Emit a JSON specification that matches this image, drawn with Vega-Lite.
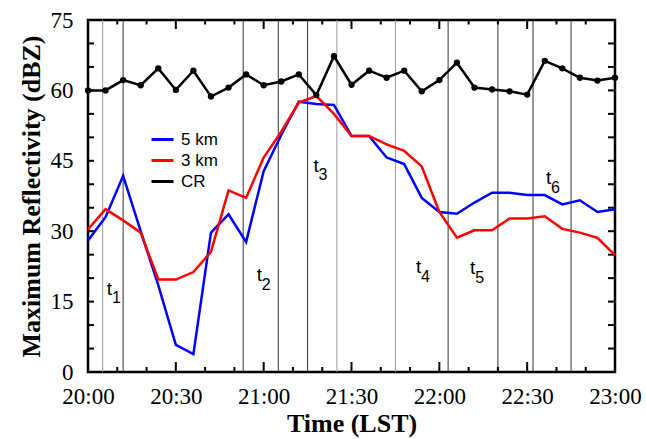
{
  "$schema": "https://vega.github.io/schema/vega-lite/v6.json",
  "width": 527,
  "height": 352,
  "autosize": "none",
  "padding": {"left": 88, "top": 20, "right": 31, "bottom": 67},
  "background": "white",
  "config": {
    "view": {"stroke": "black", "strokeWidth": 2.5},
    "axis": {"domain": false, "ticks": false, "grid": false, "labelColor": "black", "titleColor": "black", "labelOverlap": false, "labelFlush": false}
  },
  "datasets": {
    "series": [
      {"minute": 0, "series": "5 km", "value": 28.0},
      {"minute": 6, "series": "5 km", "value": 33.0},
      {"minute": 12, "series": "5 km", "value": 41.8},
      {"minute": 18, "series": "5 km", "value": 30.0},
      {"minute": 24, "series": "5 km", "value": 18.5},
      {"minute": 30, "series": "5 km", "value": 5.8},
      {"minute": 36, "series": "5 km", "value": 3.8},
      {"minute": 42, "series": "5 km", "value": 29.7},
      {"minute": 48, "series": "5 km", "value": 33.6},
      {"minute": 54, "series": "5 km", "value": 27.7},
      {"minute": 60, "series": "5 km", "value": 42.8},
      {"minute": 66, "series": "5 km", "value": 50.5},
      {"minute": 72, "series": "5 km", "value": 57.6},
      {"minute": 78, "series": "5 km", "value": 57.1},
      {"minute": 84, "series": "5 km", "value": 56.9},
      {"minute": 90, "series": "5 km", "value": 50.3},
      {"minute": 96, "series": "5 km", "value": 50.3},
      {"minute": 102, "series": "5 km", "value": 45.7},
      {"minute": 108, "series": "5 km", "value": 44.3},
      {"minute": 114, "series": "5 km", "value": 37.1},
      {"minute": 120, "series": "5 km", "value": 34.1},
      {"minute": 126, "series": "5 km", "value": 33.7},
      {"minute": 132, "series": "5 km", "value": 36.1},
      {"minute": 138, "series": "5 km", "value": 38.2},
      {"minute": 144, "series": "5 km", "value": 38.2},
      {"minute": 150, "series": "5 km", "value": 37.7},
      {"minute": 156, "series": "5 km", "value": 37.7},
      {"minute": 162, "series": "5 km", "value": 35.7},
      {"minute": 168, "series": "5 km", "value": 36.6},
      {"minute": 174, "series": "5 km", "value": 34.1},
      {"minute": 180, "series": "5 km", "value": 34.7},
      {"minute": 0, "series": "3 km", "value": 30.4},
      {"minute": 6, "series": "3 km", "value": 34.7},
      {"minute": 12, "series": "3 km", "value": 32.3},
      {"minute": 18, "series": "3 km", "value": 29.7},
      {"minute": 24, "series": "3 km", "value": 19.7},
      {"minute": 30, "series": "3 km", "value": 19.7},
      {"minute": 36, "series": "3 km", "value": 21.3},
      {"minute": 42, "series": "3 km", "value": 25.6},
      {"minute": 48, "series": "3 km", "value": 38.7},
      {"minute": 54, "series": "3 km", "value": 37.1},
      {"minute": 60, "series": "3 km", "value": 45.7},
      {"minute": 66, "series": "3 km", "value": 51.2},
      {"minute": 72, "series": "3 km", "value": 57.4},
      {"minute": 78, "series": "3 km", "value": 58.8},
      {"minute": 84, "series": "3 km", "value": 55.0},
      {"minute": 90, "series": "3 km", "value": 50.3},
      {"minute": 96, "series": "3 km", "value": 50.3},
      {"minute": 102, "series": "3 km", "value": 48.5},
      {"minute": 108, "series": "3 km", "value": 47.1},
      {"minute": 114, "series": "3 km", "value": 43.8},
      {"minute": 120, "series": "3 km", "value": 34.1},
      {"minute": 126, "series": "3 km", "value": 28.6},
      {"minute": 132, "series": "3 km", "value": 30.2},
      {"minute": 138, "series": "3 km", "value": 30.2},
      {"minute": 144, "series": "3 km", "value": 32.7},
      {"minute": 150, "series": "3 km", "value": 32.7},
      {"minute": 156, "series": "3 km", "value": 33.2},
      {"minute": 162, "series": "3 km", "value": 30.5},
      {"minute": 168, "series": "3 km", "value": 29.7},
      {"minute": 174, "series": "3 km", "value": 28.6},
      {"minute": 180, "series": "3 km", "value": 24.9},
      {"minute": 0, "series": "CR", "value": 60.0},
      {"minute": 6, "series": "CR", "value": 60.0},
      {"minute": 12, "series": "CR", "value": 62.2},
      {"minute": 18, "series": "CR", "value": 61.1},
      {"minute": 24, "series": "CR", "value": 64.7},
      {"minute": 30, "series": "CR", "value": 60.1},
      {"minute": 36, "series": "CR", "value": 64.2},
      {"minute": 42, "series": "CR", "value": 58.7},
      {"minute": 48, "series": "CR", "value": 60.6},
      {"minute": 54, "series": "CR", "value": 63.4},
      {"minute": 60, "series": "CR", "value": 61.1},
      {"minute": 66, "series": "CR", "value": 61.9},
      {"minute": 72, "series": "CR", "value": 63.4},
      {"minute": 78, "series": "CR", "value": 59.0},
      {"minute": 84, "series": "CR", "value": 67.3},
      {"minute": 90, "series": "CR", "value": 61.2},
      {"minute": 96, "series": "CR", "value": 64.2},
      {"minute": 102, "series": "CR", "value": 62.7},
      {"minute": 108, "series": "CR", "value": 64.2},
      {"minute": 114, "series": "CR", "value": 59.8},
      {"minute": 120, "series": "CR", "value": 62.2},
      {"minute": 126, "series": "CR", "value": 65.9},
      {"minute": 132, "series": "CR", "value": 60.6},
      {"minute": 138, "series": "CR", "value": 60.2},
      {"minute": 144, "series": "CR", "value": 59.8},
      {"minute": 150, "series": "CR", "value": 59.1},
      {"minute": 156, "series": "CR", "value": 66.3},
      {"minute": 162, "series": "CR", "value": 64.7},
      {"minute": 168, "series": "CR", "value": 62.7},
      {"minute": 174, "series": "CR", "value": 62.1},
      {"minute": 180, "series": "CR", "value": 62.7}
    ],
    "darkLines": [
      {"minute": 12}, {"minute": 53}, {"minute": 65}, {"minute": 75},
      {"minute": 123}, {"minute": 140}, {"minute": 152}, {"minute": 165}
    ],
    "lightLines": [
      {"minute": 5}, {"minute": 85}, {"minute": 105}
    ],
    "majorX": [
      {"minute": 30}, {"minute": 60}, {"minute": 90}, {"minute": 120}, {"minute": 150}
    ],
    "minorX": [
      {"minute": 10}, {"minute": 20}, {"minute": 40}, {"minute": 50}, {"minute": 70}, {"minute": 80},
      {"minute": 100}, {"minute": 110}, {"minute": 130}, {"minute": 140}, {"minute": 160}, {"minute": 170}
    ],
    "yTicks": [
      {"value": 5}, {"value": 10}, {"value": 15}, {"value": 20}, {"value": 25}, {"value": 30}, {"value": 35},
      {"value": 40}, {"value": 45}, {"value": 50}, {"value": 55}, {"value": 60}, {"value": 65}, {"value": 70}
    ],
    "periods": [
      {"minute": 7.3, "value": 16.5, "n": "1"},
      {"minute": 58.5, "value": 19.3, "n": "2"},
      {"minute": 77.9, "value": 42.7, "n": "3"},
      {"minute": 112.9, "value": 21.0, "n": "4"},
      {"minute": 131.4, "value": 20.8, "n": "5"},
      {"minute": 157.3, "value": 40.0, "n": "6"}
    ]
  },
  "layer": [
    {
      "data": {"name": "darkLines"},
      "mark": {"type": "rule", "color": "#333333", "strokeWidth": 1},
      "encoding": {
        "x": {"field": "minute", "type": "quantitative", "scale": {"domain": [0, 180], "nice": false, "zero": false}}
      }
    },
    {
      "data": {"name": "lightLines"},
      "mark": {"type": "rule", "color": "#999999", "strokeWidth": 1},
      "encoding": {
        "x": {"field": "minute", "type": "quantitative"}
      }
    },
    {
      "data": {"name": "majorX"},
      "mark": {"type": "tick", "orient": "vertical", "size": 20, "thickness": 2, "color": "black", "opacity": 1, "clip": true},
      "encoding": {
        "x": {"field": "minute", "type": "quantitative"},
        "y": {"datum": 0, "type": "quantitative"}
      }
    },
    {
      "data": {"name": "majorX"},
      "mark": {"type": "tick", "orient": "vertical", "size": 18, "thickness": 2, "color": "black", "opacity": 1, "clip": true},
      "encoding": {
        "x": {"field": "minute", "type": "quantitative"},
        "y": {"datum": 75, "type": "quantitative"}
      }
    },
    {
      "data": {"name": "minorX"},
      "mark": {"type": "tick", "orient": "vertical", "size": 10, "thickness": 2, "color": "black", "opacity": 1, "clip": true},
      "encoding": {
        "x": {"field": "minute", "type": "quantitative"},
        "y": {"datum": 0, "type": "quantitative"}
      }
    },
    {
      "data": {"name": "minorX"},
      "mark": {"type": "tick", "orient": "vertical", "size": 9, "thickness": 2, "color": "black", "opacity": 1, "clip": true},
      "encoding": {
        "x": {"field": "minute", "type": "quantitative"},
        "y": {"datum": 75, "type": "quantitative"}
      }
    },
    {
      "data": {"name": "yTicks"},
      "mark": {"type": "tick", "orient": "horizontal", "size": 12, "thickness": 2, "color": "black", "opacity": 1, "clip": true},
      "encoding": {
        "x": {"datum": 0, "type": "quantitative"},
        "y": {"field": "value", "type": "quantitative"}
      }
    },
    {
      "data": {"name": "yTicks"},
      "mark": {"type": "tick", "orient": "horizontal", "size": 14, "thickness": 2, "color": "black", "opacity": 1, "clip": true},
      "encoding": {
        "x": {"datum": 180, "type": "quantitative"},
        "y": {"field": "value", "type": "quantitative"}
      }
    },
    {
      "data": {"name": "series"},
      "mark": {"type": "line", "strokeWidth": 2.5},
      "encoding": {
        "x": {
          "field": "minute", "type": "quantitative",
          "axis": {"orient": "bottom", "values": [0, 30, 60, 90, 120, 150, 180], "labelExpr": "(20 + floor(datum.value / 60)) + ':' + (datum.value % 60 == 0 ? '00' : '30')", "labelFont": "Liberation Serif", "labelFontSize": 23, "labelPadding": 13, "title": "Time (LST)", "titleFont": "Liberation Serif", "titleFontSize": 26, "titleFontWeight": "bold", "titlePadding": 2}
        },
        "y": {
          "field": "value", "type": "quantitative",
          "scale": {"domain": [0, 75], "nice": false},
          "axis": {"orient": "left", "values": [0, 15, 30, 45, 60, 75], "labelFont": "Liberation Serif", "labelFontSize": 23, "labelPadding": 15, "title": "Maximum Reflectivity (dBZ)", "titleFont": "Liberation Serif", "titleFontSize": 26, "titleFontWeight": "bold", "titlePadding": 6}
        },
        "color": {
          "field": "series", "type": "nominal",
          "scale": {"domain": ["5 km", "3 km", "CR"], "range": ["#0000ff", "#ff0000", "#000000"]},
          "legend": {"orient": "none", "legendX": 62, "legendY": 107, "title": null, "symbolType": "stroke", "symbolStrokeWidth": 3, "symbolSize": 484, "labelFont": "Liberation Sans", "labelFontSize": 17, "labelColor": "black", "labelOffset": 6, "rowPadding": 0, "padding": 0}
        }
      }
    },
    {
      "data": {"name": "series"},
      "transform": [{"filter": "datum.series == 'CR'"}],
      "mark": {"type": "point", "filled": true, "color": "black", "size": 40, "opacity": 1},
      "encoding": {
        "x": {"field": "minute", "type": "quantitative"},
        "y": {"field": "value", "type": "quantitative"}
      }
    },
    {
      "data": {"name": "periods"},
      "mark": {"type": "text", "text": "t", "font": "Liberation Sans", "fontSize": 19, "align": "center", "baseline": "alphabetic", "color": "black"},
      "encoding": {
        "x": {"field": "minute", "type": "quantitative"},
        "y": {"field": "value", "type": "quantitative"}
      }
    },
    {
      "data": {"name": "periods"},
      "mark": {"type": "text", "font": "Liberation Sans", "fontSize": 16, "align": "center", "baseline": "alphabetic", "dx": 7, "dy": 8.5, "color": "black"},
      "encoding": {
        "x": {"field": "minute", "type": "quantitative"},
        "y": {"field": "value", "type": "quantitative"},
        "text": {"field": "n"}
      }
    }
  ]
}
